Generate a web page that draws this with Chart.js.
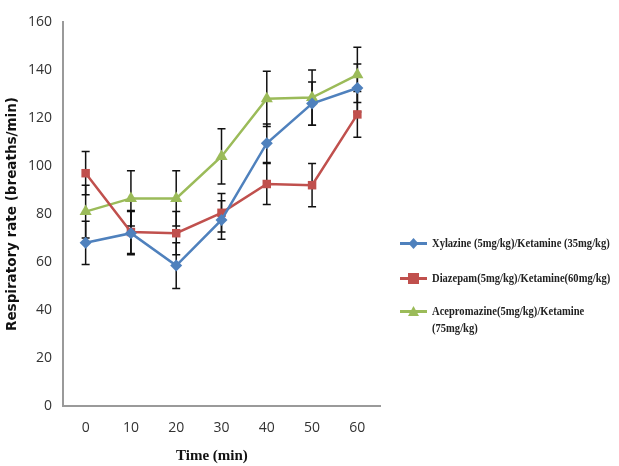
<!DOCTYPE html>
<html>
<head>
<meta charset="utf-8">
<script src="https://cdn.jsdelivr.net/npm/chart.js@4"></script>
<style>
    body { margin: 0; background: #fff; }
    .wrap { position: relative; width: 619px; height: 466px; }
    .legend { position: absolute; left: 400px; top: 0; font-family: "Liberation Serif", "DejaVu Serif", serif; font-weight: bold; font-size: 12px; line-height: 17px; color: #222; }
    .legend .item { position: absolute; left: 0; display: flex; align-items: flex-start; white-space: nowrap; }
    .legend .sw { width: 27px; height: 17px; margin-right: 5px; flex: none; }
    .legend .txt { transform: scaleX(0.88); transform-origin: left top; }
    .xtitle { position: absolute; left: 176px; top: 447px; font-family: "Liberation Serif", serif; font-weight: bold; font-size: 15px; color: #111; }
</style>
</head>
<body>
<div class="wrap">
    <canvas id="chart" width="619" height="466"></canvas>
    <div class="legend" id="legend"></div>
    <div class="xtitle">Time (min)</div>
</div>
<script>
const times = ['0', '10', '20', '30', '40', '50', '60'];
const yTicks = [0, 20, 40, 60, 80, 100, 120, 140, 160];

const seriesNames = [
    'Xylazine (5mg/kg)/Ketamine (35mg/kg)',
    'Diazepam(5mg/kg)/Ketamine(60mg/kg)',
    'Acepromazine(5mg/kg)/Ketamine (75mg/kg)'
];
const xylazine = [68, 72, 58.5, 77.5, 109.5, 126, 132.5];
const diazepam = [97, 72.5, 72, 80.5, 92.5, 92, 121.5];
const acepromazine = [81, 86.5, 86.5, 104, 128, 128.5, 138];

const xylazineErr = [9, 9, 9.5, 8, 8, 9, 10];
const diazepamErr = [9, 9, 9, 8, 8.5, 9, 9.5];
const acepromazineErr = [11, 11.5, 11.5, 11.5, 11.5, 11.5, 11.5];

const colors = ['#4f81bd', '#c0504d', '#9bbb59'];
const markers = ['rectRot', 'rect', 'triangle'];

// error bars, drawn under the markers
const errorBars = {
    id: 'errorBars',
    beforeDatasetsDraw(chart) {
        const { ctx, scales: { x, y } } = chart;
        const errs = [xylazineErr, diazepamErr, acepromazineErr];
        ctx.save();
        ctx.strokeStyle = '#111';
        ctx.lineWidth = 1.5;
        chart.data.datasets.forEach((ds, i) => {
            ds.data.forEach((v, j) => {
                const px = x.getPixelForValue(j);
                const top = y.getPixelForValue(v + errs[i][j]);
                const bot = y.getPixelForValue(v - errs[i][j]);
                ctx.beginPath();
                ctx.moveTo(px, top); ctx.lineTo(px, bot);
                ctx.moveTo(px - 4, top); ctx.lineTo(px + 4, top);
                ctx.moveTo(px - 4, bot); ctx.lineTo(px + 4, bot);
                ctx.stroke();
            });
        });
        ctx.restore();
    }
};

const mkSet = (label, data, i) => ({
    label,
    data,
    borderColor: colors[i],
    backgroundColor: colors[i],
    borderWidth: 2.5,
    pointStyle: markers[i],
    pointRadius: i === 2 ? 7 : 6,
    pointBorderWidth: 0,
    tension: 0
});

new Chart(document.getElementById('chart'), {
    type: 'line',
    data: {
        labels: times,
        datasets: [
            mkSet(seriesNames[0], xylazine, 0),
            mkSet(seriesNames[1], diazepam, 1),
            mkSet(seriesNames[2], acepromazine, 2)
        ]
    },
    options: {
        responsive: false,
        animation: false,
        layout: { padding: { top: 22, right: 239, bottom: 0, left: 0 } },
        plugins: { legend: { display: false }, tooltip: { enabled: false } },
        scales: {
            x: {
                offset: true,
                grid: { display: false, drawTicks: false },
                border: { color: '#9a9a9a', width: 2 },
                ticks: { color: '#333', font: { family: '"Liberation Sans Narrow", "Open Sans", sans-serif', size: 14 }, padding: 14 },
                afterFit: (s) => { s.height = 60; }
            },
            y: {
                min: 0, max: 160,
                afterBuildTicks: (s) => { s.ticks = yTicks.map(v => ({ value: v })); },
                grid: { display: false, drawOnChartArea: false, drawTicks: true, tickLength: 5, tickColor: '#9a9a9a' },
                border: { color: '#9a9a9a', width: 2 },
                ticks: { color: '#333', font: { family: '"Liberation Sans Narrow", "Open Sans", sans-serif', size: 14 }, padding: 6 },
                title: { display: true, text: 'Respiratory rate (breaths/min)', color: '#111', font: { family: '"DejaVu Sans", sans-serif', weight: 'bold', size: 13.5 }, padding: { bottom: 0 } },
                afterFit: (s) => { s.width = 63; }
            }
        }
    },
    plugins: [errorBars]
});

// html legend
const legendEl = document.getElementById('legend');
const legendTops = [235, 270, 303];
const shapes = [
    '<path d="M13.5 3 L18.5 8.5 L13.5 14 L8.5 8.5 Z" fill="#4f81bd"/>',
    '<rect x="8" y="3" width="11" height="11" fill="#c0504d"/>',
    '<path d="M13.5 3 L19 13 L8 13 Z" fill="#9bbb59"/>'
];
seriesNames.forEach((name, i) => {
    const text = i === 2 ? 'Acepromazine(5mg/kg)/Ketamine<br>(75mg/kg)' : name;
    legendEl.innerHTML += `
        <div class="item" style="top:${legendTops[i]}px">
            <svg class="sw" viewBox="0 0 27 17"><line x1="0" y1="8.5" x2="27" y2="8.5" stroke="${colors[i]}" stroke-width="3"/>${shapes[i]}</svg>
            <div class="txt">${text}</div>
        </div>`;
});
</script>
</body>
</html>
